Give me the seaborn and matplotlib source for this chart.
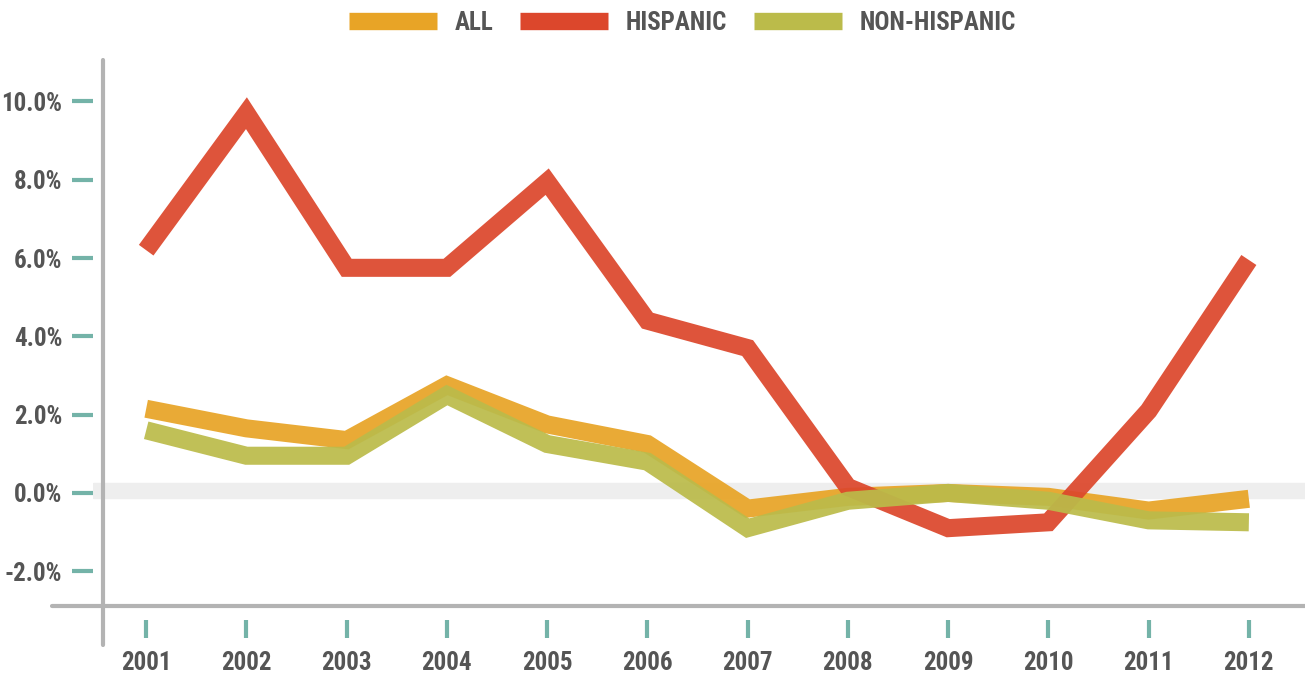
import pandas as pd
import matplotlib.pyplot as plt
import seaborn as sns
from matplotlib import font_manager

# data (annual change, %)
years = list(range(2001, 2013))
all_pct = [2.15, 1.65, 1.35, 2.75, 1.75, 1.25, -0.4, -0.1, 0.0, -0.1, -0.45, -0.15]
hispanic_pct = [6.2, 9.7, 5.75, 5.75, 7.95, 4.4, 3.7, 0.15, -0.9, -0.75, 2.1, 5.95]
non_hispanic_pct = [1.6, 0.95, 0.95, 2.5, 1.25, 0.8, -0.9, -0.2, 0.0, -0.2, -0.7, -0.75]
series = ['ALL', 'HISPANIC', 'NON-HISPANIC']
y_ticks = [-2, 0, 2, 4, 6, 8, 10]

colors = {'ALL': '#E8A426', 'HISPANIC': '#DC472C', 'NON-HISPANIC': '#BBBB4A'}

df = pd.DataFrame({
    'year': years * 3,
    'pct': all_pct + hispanic_pct + non_hispanic_pct,
    'group': ['ALL'] * 12 + ['HISPANIC'] * 12 + ['NON-HISPANIC'] * 12,
})

sns.set_style('white')
installed = {f.name for f in font_manager.fontManager.ttflist}
narrow = [f for f in ['Liberation Sans Narrow', 'Roboto Condensed', 'DejaVu Sans Condensed',
                      'Open Sans Condensed'] if f in installed]
plt.rcParams['font.family'] = narrow + ['DejaVu Sans']
plt.rcParams['font.weight'] = 'bold'

fig = plt.figure(figsize=(13.05, 6.81), dpi=100)
ax = fig.add_axes([0.0713, 0.0896, 0.9287, 0.8224])

# light band at zero
ax.axhspan(-0.13, 0.25, color='#EEEEEE', zorder=0)

sns.lineplot(data=df, x='year', y='pct', hue='group', hue_order=series,
             palette=colors, linewidth=13, alpha=0.93, ax=ax,
             legend=False, zorder=3)
for ln in ax.lines:
    ln.set_solid_joinstyle('miter')
    ln.set_solid_capstyle('butt')

ax.set_xlim(2000.47, 2012.56)
ax.set_ylim(-3.245, 11.06)

# gray axis lines (offset from the tick dashes)
ax.axvline(2000.57, ymin=-0.045, ymax=1, color='#B3B3B3', lw=3, clip_on=False, zorder=4)
ax.axhline(-2.887, xmin=-0.034, xmax=1, color='#B3B3B3', lw=3, clip_on=False, zorder=4)

for s in ax.spines.values():
    s.set_visible(False)

ax.set_xticks(years)
ax.set_xticklabels([str(y) for y in years])
ax.set_yticks(y_ticks)
ax.set_yticklabels([f'{v:.1f}%' for v in y_ticks])
ax.tick_params(axis='y', left=True, direction='out', length=15, width=3, color='#74B3A8',
               pad=7, labelsize=18, labelcolor='#555555')
ax.tick_params(axis='x', bottom=True, direction='out', length=13, width=3, color='#74B3A8',
               pad=9, labelsize=18, labelcolor='#555555')
ax.set_xlabel('')
ax.set_ylabel('')

handles = [plt.Line2D([], [], color=colors[s], lw=12.5, solid_capstyle='butt') for s in series]
leg = fig.legend(handles, series, loc='center', bbox_to_anchor=(0.523, 0.966), ncol=3,
                 frameon=False, handlelength=3.5, handletextpad=0.72, columnspacing=1.08,
                 fontsize=18)
for t in leg.get_texts():
    t.set_color('#555555')

fig.savefig('out.png', dpi=100)
